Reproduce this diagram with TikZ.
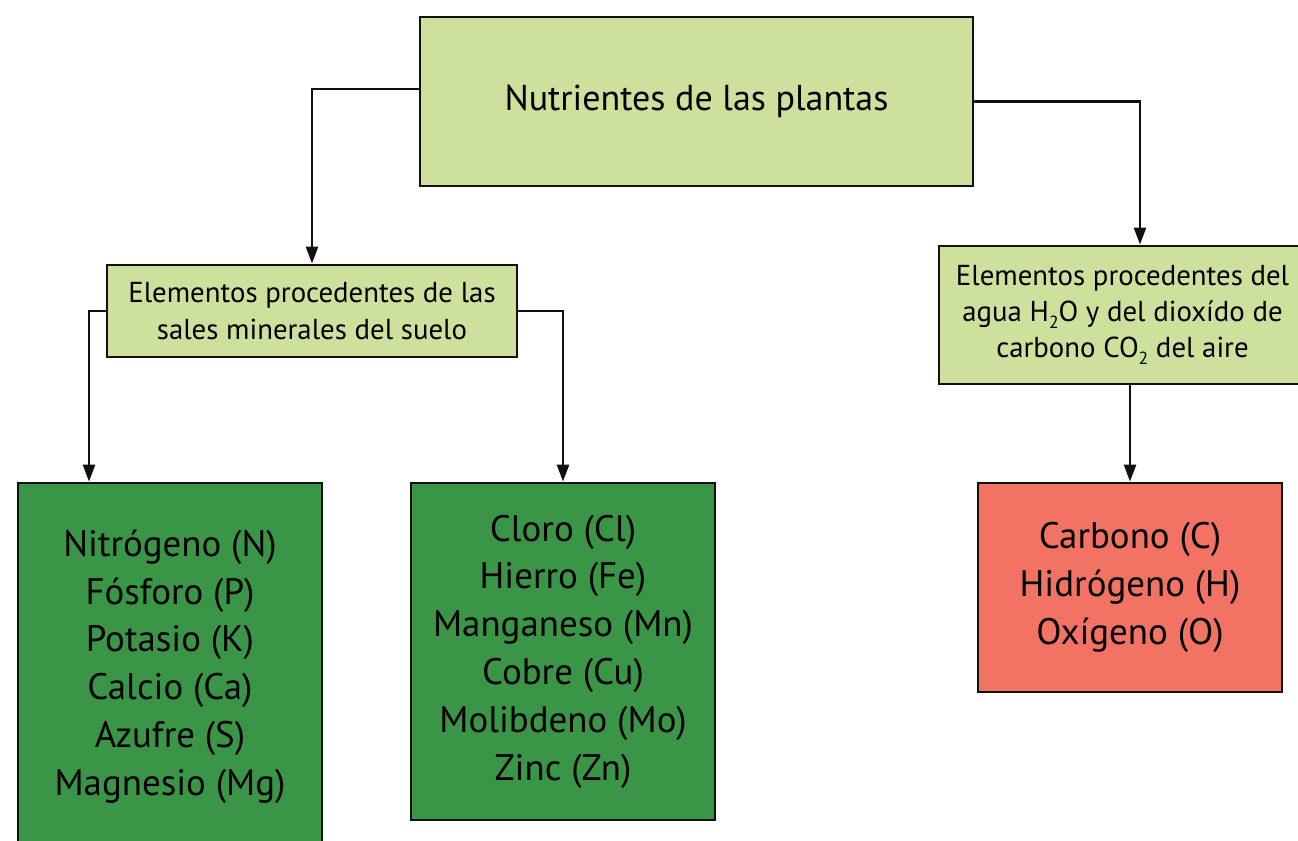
\documentclass[tikz,border=0pt]{standalone}
\usepackage{fontspec}
\setmainfont{PT Sans}
\usetikzlibrary{arrows.meta}
\definecolor{titlefill}{HTML}{CDE09C}
\definecolor{groupfill}{HTML}{CDE09C}
\definecolor{mineralfill}{HTML}{3A9646}
\definecolor{airfill}{HTML}{F27364}
\definecolor{darkline}{HTML}{111111}
\newcommand{\chemsub}[1]{\raisebox{-0.5ex}{\fontsize{10}{10}\selectfont #1}}
\tikzset{
  card/.style={rectangle, align=center, draw=darkline, line width=1.6pt, inner sep=0pt},
  title/.style={card, fill=titlefill, minimum width=11.06cm, minimum height=3.38cm, font=\fontsize{20.5}{24}\selectfont},
  group/.style={card, fill=groupfill, font=\fontsize{16.4}{20.6}\selectfont},
  element/.style={card, minimum width=6.08cm, font=\fontsize{21}{27.2}\selectfont},
  flow/.style={-{Triangle[length=3.4mm, width=2.4mm]}, line width=1.4pt, draw=darkline}
}

\begin{document}
\begin{tikzpicture}[x=0.02cm, y=-0.02cm]

\useasboundingbox (0,0) rectangle (1298,840);
\clip (0,0) rectangle (1298,840);

\node[title] (plants) at (696.5,101.5) {Nutrientes de las plantas};

\node[group, minimum width=8.2cm, minimum height=1.84cm] (soil) at (312,311)
  {Elementos procedentes de las\\sales minerales del suelo};
\node[group, minimum width=7.34cm, minimum height=2.76cm] (air) at (1122.5,315)
  {Elementos procedentes del\\agua H\chemsub{2}O y del dioxído de\\carbono CO\chemsub{2} del aire};

\node[element, fill=mineralfill, minimum height=7.34cm] (macro) at (170,666.5)
  {Nitrógeno (N)\\Fósforo (P)\\Potasio (K)\\Calcio (Ca)\\Azufre (S)\\Magnesio (Mg)};
\node[element, fill=mineralfill, minimum height=6.74cm] (micro) at (563,651.5)
  {Cloro (Cl)\\Hierro (Fe)\\Manganeso (Mn)\\Cobre (Cu)\\Molibdeno (Mo)\\Zinc (Zn)};
\node[element, fill=airfill, minimum height=4.18cm] (organic) at (1130,587.5)
  {Carbono (C)\\Hidrógeno (H)\\Oxígeno (O)};

\draw[flow] ([yshift=0.25cm]plants.west) -| (soil.north);
\draw[flow] (plants.east) -| ([xshift=0.35cm]air.north);
\draw[flow] (soil.west) -| ([xshift=-1.62cm]macro.north);
\draw[flow] (soil.east) -| (micro.north);
\draw[flow] (air.south -| organic.north) -- (organic.north);

\end{tikzpicture}
\end{document}
